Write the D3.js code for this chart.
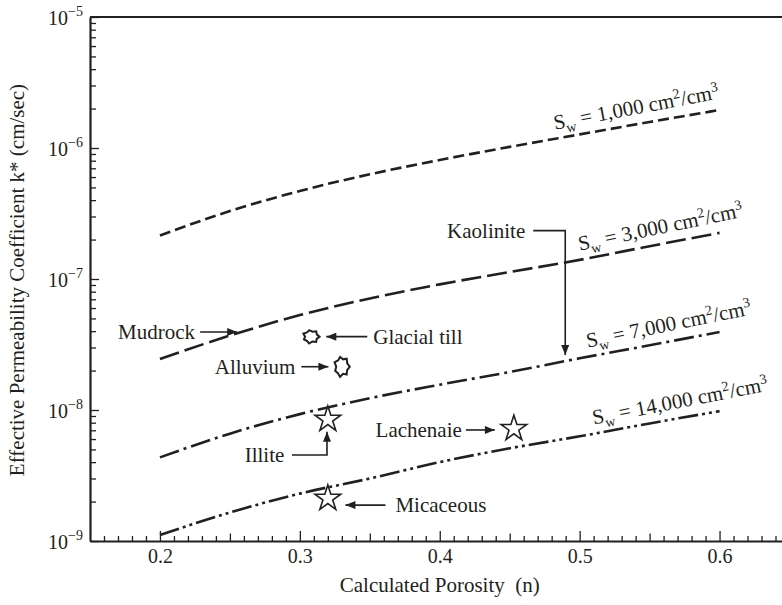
<!DOCTYPE html>
<html lang="en">
<head>
<meta charset="UTF-8">
<title>Effective Permeability vs Calculated Porosity</title>
<script src="https://cdn.jsdelivr.net/npm/d3@7"></script>
<style>
    body { margin: 0; background: #fff; }
    svg text { font-family: "Liberation Serif", "DejaVu Serif", serif; fill: #231f20; }
    .axis path, .axis line { stroke: #231f20; }
    .axis path { stroke-width: 2.2px; }
    .axis line { stroke-width: 1.3px; }
    .curve { fill: none; stroke: #231f20; stroke-width: 2.6px; }
    .note-line { fill: none; stroke: #231f20; stroke-width: 1.6px; }
</style>
</head>
<body>
<svg id="chart" width="782" height="605"></svg>
<script>
    // porosity steps shared by the four curves
    const porosity = [0.20, 0.25, 0.30, 0.35, 0.40, 0.45, 0.50, 0.55, 0.60];
    // k* (cm/sec)
    const kSw1000  = [2.15e-7, 3.3e-7, 4.7e-7, 6.3e-7, 8.1e-7, 1.02e-6, 1.27e-6, 1.58e-6, 1.95e-6];
    const kSw3000  = [2.45e-8, 3.7e-8, 5.3e-8, 7.1e-8, 9.1e-8, 1.13e-7, 1.4e-7, 1.78e-7, 2.25e-7];
    const kSw7000  = [4.35e-9, 6.6e-9, 9.3e-9, 1.23e-8, 1.56e-8, 1.95e-8, 2.48e-8, 3.12e-8, 3.94e-8];
    const kSw14000 = [1.11e-9, 1.65e-9, 2.3e-9, 3.0e-9, 4.0e-9, 5.1e-9, 6.3e-9, 7.9e-9, 9.8e-9];
    const swValues = ["1,000", "3,000", "7,000", "14,000"];

    // measured samples
    const sampleNames = ["Glacial till", "Alluvium", "Illite", "Lachenaie", "Micaceous"];
    const sampleN     = [0.308, 0.330, 0.320, 0.453, 0.320];
    const sampleK     = [3.63e-8, 2.14e-8, 8.7e-9, 7.4e-9, 2.17e-9];
    const sampleShape = ["blob", "blob", "star", "star", "star"];

    const xTicks = [0.2, 0.3, 0.4, 0.5, 0.6];
    const yExponents = [-9, -8, -7, -6, -5];

    // where the Sw labels start along each curve (porosity)
    const labelStartN = [0.4835, 0.5014, 0.5071, 0.5113];
    const dashes = ["11,5", "20,6", "20,5,3,5", "20,4,3,4,3,4"];

    // callouts, in data units
    const notes = [
        { text: "Mudrock",   anchor: "end",   at: [0.2251, 3.94e-8], path: [[0.2287, 3.94e-8], [0.2552, 3.94e-8]] },
        { text: "Glacial till", anchor: "start", at: [0.3525, 3.63e-8], path: [[0.3482, 3.63e-8], [0.3189, 3.63e-8]] },
        { text: "Alluvium",  anchor: "end",   at: [0.2968, 2.14e-8], path: [[0.3011, 2.14e-8], [0.3204, 2.14e-8]] },
        { text: "Illite",    anchor: "end",   at: [0.2889, 4.53e-9], path: [[0.2944, 4.53e-9], [0.3194, 4.53e-9], [0.3194, 6.83e-9]] },
        { text: "Lachenaie", anchor: "end",   at: [0.4158, 7.04e-9], path: [[0.4187, 7.04e-9], [0.4394, 7.04e-9]] },
        { text: "Micaceous", anchor: "start", at: [0.3683, 1.88e-9], path: [[0.3612, 1.88e-9], [0.3326, 1.88e-9]] },
        { text: "Kaolinite", anchor: "end",   at: [0.4611, 2.34e-7], path: [[0.4668, 2.34e-7], [0.4897, 2.34e-7], [0.4897, 2.63e-8]] }
    ];

    const series = [kSw1000, kSw3000, kSw7000, kSw14000];

    const svg = d3.select("#chart");
    const plotLeft = 90, plotTop = 17, plotBottom = 541, plotRight = 782;

    const x = d3.scaleLinear().domain([0.15, 0.65]).range([plotLeft, 789.5]);
    const y = d3.scaleLog().domain([1e-9, 1e-5]).range([plotBottom, plotTop]);

    // arrowhead
    svg.append("defs").append("marker")
        .attr("id", "arrow")
        .attr("markerUnits", "userSpaceOnUse")
        .attr("viewBox", "0 0 10 8")
        .attr("markerWidth", 11).attr("markerHeight", 8)
        .attr("refX", 10).attr("refY", 4)
        .attr("orient", "auto")
        .append("path").attr("d", "M0,0L10,4L0,8Z").attr("fill", "#231f20");

    // ----- axes -----
    const minorY = [];
    yExponents.slice(0, -1).forEach(e => {
        for (let m = 2; m <= 9; m++) minorY.push(m * Math.pow(10, e));
    });

    svg.append("g").attr("class", "axis")
        .attr("transform", `translate(${plotLeft},0)`)
        .call(d3.axisLeft(y).tickValues(minorY).tickSize(-6).tickSizeOuter(0).tickFormat(""));
    svg.append("g").attr("class", "axis")
        .attr("transform", `translate(${plotLeft},0)`)
        .call(d3.axisLeft(y).tickValues(yExponents.map(e => Math.pow(10, e))).tickSize(-9).tickSizeOuter(0).tickFormat(""))
        .select(".domain").remove();

    const xMinor = d3.range(16, 65).map(i => i / 100).filter(v => Math.round(v * 100) % 5 !== 0);
    const xMid = [0.25, 0.35, 0.45, 0.55];
    svg.append("g").attr("class", "axis")
        .attr("transform", `translate(0,${plotBottom})`)
        .call(d3.axisBottom(x).tickValues(xMinor).tickSize(-5).tickSizeOuter(0).tickFormat(""));
    svg.append("g").attr("class", "axis")
        .attr("transform", `translate(0,${plotBottom})`)
        .call(d3.axisBottom(x).tickValues(xMid).tickSize(-7.5).tickFormat(""))
        .select(".domain").remove();
    const xMajor = svg.append("g").attr("class", "axis")
        .attr("transform", `translate(0,${plotBottom})`)
        .call(d3.axisBottom(x).tickValues(xTicks).tickSize(-10).tickFormat(d3.format(".1f")));
    xMajor.select(".domain").remove();
    xMajor.selectAll("text")
        .attr("y", 22).attr("dy", 0)
        .style("font-size", "20px")
        .style("font-family", '"Liberation Serif", serif')
        .attr("fill", "#231f20");

    // top frame line
    svg.append("line")
        .attr("x1", plotLeft).attr("x2", plotRight).attr("y1", plotTop).attr("y2", plotTop)
        .attr("stroke", "#231f20").attr("stroke-width", 2.2);

    // y tick labels as 10^n
    const yLab = svg.append("g");
    yExponents.forEach(e => {
        const t = yLab.append("text")
            .attr("x", plotLeft - 7).attr("y", y(Math.pow(10, e)) + 8)
            .attr("text-anchor", "end")
            .style("font-size", "20px");
        t.append("tspan").text("10");
        t.append("tspan").attr("dy", -9).style("font-size", "14px").text("\u2212" + Math.abs(e));
    });

    // axis titles
    svg.append("text")
        .attr("x", x(0.4)).attr("y", 592)
        .attr("text-anchor", "middle")
        .style("font-size", "21px")
        .text("Calculated Porosity\u00a0\u00a0(n)");

    svg.append("text")
        .attr("transform", `translate(24,${(plotTop + plotBottom) / 2 + 1}) rotate(-90)`)
        .attr("text-anchor", "middle")
        .style("font-size", "21px")
        .text("Effective Permeability Coefficient k* (cm/sec)");

    // ----- curves -----
    const line = d3.line()
        .x(d => x(d[0]))
        .y(d => y(d[1]))
        .curve(d3.curveMonotoneX);

    function kAt(vals, n) {
        const f = d3.scaleLinear().domain(porosity).range(vals.map(Math.log10));
        return Math.pow(10, f(n));
    }

    series.forEach((vals, i) => {
        svg.append("path")
            .attr("class", "curve")
            .attr("d", line(porosity.map((n, j) => [n, vals[j]])))
            .attr("stroke-dasharray", dashes[i]);

        const n0 = labelStartN[i];
        const nEnd = porosity[porosity.length - 1];
        const p0 = [x(n0), y(kAt(vals, n0))];
        const p1 = [x(nEnd), y(kAt(vals, nEnd))];
        const ang = Math.atan2(p1[1] - p0[1], p1[0] - p0[0]) * 180 / Math.PI - 0.8;

        const t = svg.append("text")
            .attr("transform", `translate(${p0[0]},${p0[1]}) rotate(${ang})`)
            .attr("y", -9)
            .style("font-size", "21px");
        t.append("tspan").text("S");
        t.append("tspan").attr("dy", 5).style("font-size", "14px").text("w");
        t.append("tspan").attr("dy", -5).text(" = " + swValues[i] + " cm");
        t.append("tspan").attr("dy", -8).style("font-size", "14px").text("2");
        t.append("tspan").attr("dy", 8).text("/cm");
        t.append("tspan").attr("dy", -8).style("font-size", "14px").text("3");
    });

    // ----- callouts -----
    notes.forEach(d => {
        svg.append("path")
            .attr("class", "note-line")
            .attr("d", d3.line().x(p => x(p[0])).y(p => y(p[1])).curve(d3.curveLinear)(d.path))
            .attr("marker-end", "url(#arrow)");
        svg.append("text")
            .attr("x", x(d.at[0])).attr("y", y(d.at[1]))
            .attr("dy", "0.33em")
            .attr("text-anchor", d.anchor)
            .style("font-size", "21px")
            .text(d.text);
    });

    // ----- sample markers -----
    const starR = 13.5;
    const star = d3.symbol().type(d3.symbolStar).size(starR * starR / 0.8908130915292852);
    const jag = [1, 0.74, 0.96, 0.7, 1, 0.78, 0.92, 0.7, 1, 0.76, 0.95, 0.72, 0.98, 0.75];
    function blob(rx, ry) {
        const pts = jag.map((s, i) => {
            const a = i / jag.length * 2 * Math.PI;
            return [Math.cos(a) * rx * s, Math.sin(a) * ry * s];
        });
        return d3.line().curve(d3.curveLinearClosed)(pts);
    }
    const blobSize = { "Glacial till": [8.5, 7], "Alluvium": [8, 10.5] };

    sampleNames.forEach((name, i) => {
        const g = svg.append("g")
            .attr("transform", `translate(${x(sampleN[i])},${y(sampleK[i])})`);
        if (sampleShape[i] === "star") {
            g.append("path").attr("d", star())
                .attr("transform", "translate(0,1.5)")
                .attr("fill", "#fff").attr("stroke", "#231f20").attr("stroke-width", 1.6);
        } else {
            const s = blobSize[name];
            g.append("path").attr("d", blob(s[0], s[1]))
                .attr("fill", "#fff").attr("stroke", "#231f20").attr("stroke-width", 2);
        }
    });
</script>
</body>
</html>
